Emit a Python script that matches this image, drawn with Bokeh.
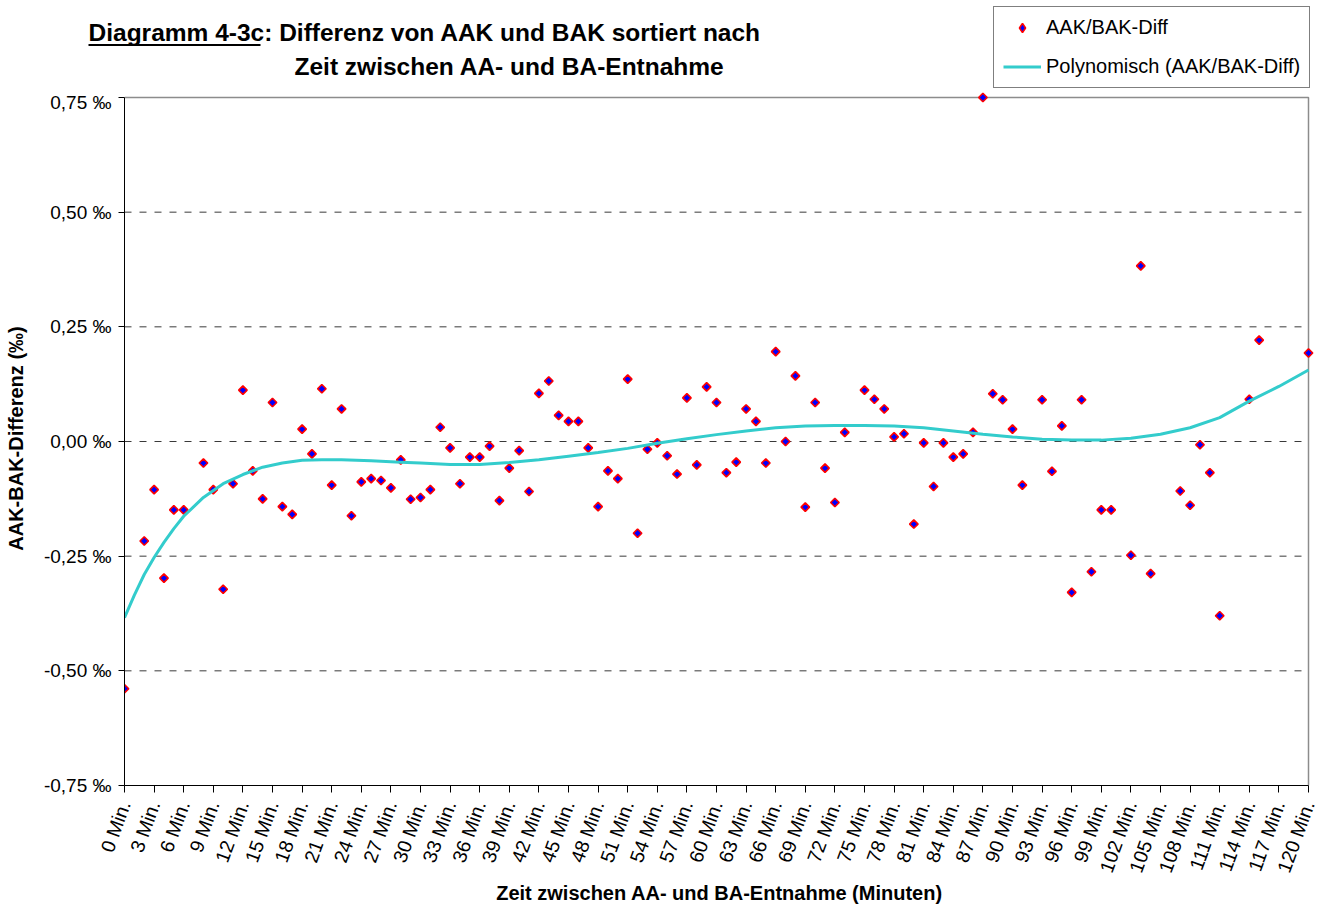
import math
from bokeh.plotting import figure
from bokeh.layouts import column
from bokeh.models import Range1d, FixedTicker, Label, Legend, LegendItem
from bokeh.embed import file_html
from bokeh.resources import INLINE

# ---------------- data ----------------
MINUTES = [0, 2, 3, 4, 5, 6, 8, 9, 10, 11, 12, 13, 14, 15, 16, 17, 18, 19, 20,
           21, 22, 23, 24, 25, 26, 27, 28, 29, 30, 31, 32, 33, 34, 35, 36, 37, 38,
           39, 40, 41, 42, 43, 44, 45, 46, 47, 48, 49, 50, 51, 52, 53, 54, 55, 56,
           57, 58, 59, 60, 61, 62, 63, 64, 65, 66, 67, 68, 69, 70, 71, 72, 73, 75,
           76, 77, 78, 79, 80, 81, 82, 83, 84, 85, 86, 87, 88, 89, 90, 91, 93, 94,
           95, 96, 97, 98, 99, 100, 102, 103, 104, 107, 108, 109, 110, 111, 114,
           115, 120]
DIFF = [-0.539, -0.217, -0.105, -0.298, -0.149, -0.149, -0.047, -0.105, -0.322,
        -0.092, 0.112, -0.064, -0.125, 0.085, -0.142, -0.159, 0.027, -0.027,
        0.115, -0.095, 0.071, -0.162, -0.088, -0.081, -0.085, -0.101, -0.040,
        -0.126, -0.122, -0.105, 0.031, -0.014, -0.092, -0.034, -0.034, -0.010,
        -0.129, -0.058, -0.020, -0.109, 0.105, 0.132, 0.057, 0.044, 0.044,
        -0.014, -0.142, -0.064, -0.081, 0.136, -0.200, -0.017, -0.003, -0.031,
        -0.071, 0.095, -0.051, 0.119, 0.085, -0.068, -0.045, 0.071, 0.044,
        -0.047, 0.196, 0.000, 0.143, -0.143, 0.085, -0.058, -0.133, 0.020,
        0.112, 0.092, 0.071, 0.010, 0.017, -0.180, -0.003, -0.098, -0.003,
        -0.034, -0.027, 0.020, 0.750, 0.104, 0.091, 0.027, -0.095, 0.091,
        -0.065, 0.034, -0.329, 0.091, -0.284, -0.149, -0.149, -0.248, 0.383,
        -0.288, -0.108, -0.139, -0.007, -0.068, -0.380, 0.092, 0.221, 0.193]

TREND_MIN = [0, 1, 2, 3, 4, 5, 6, 8, 10, 12, 14, 16, 18, 20, 22, 25, 28, 30,
             33, 36, 39, 42, 45, 48, 51, 54, 57, 60, 63, 66, 69, 72, 75, 78, 81,
             84, 87, 90, 93, 96, 99, 102, 105, 108, 111, 114, 117, 120]
TREND_VAL = [-0.384, -0.335, -0.290, -0.253, -0.220, -0.190, -0.163, -0.122,
             -0.092, -0.072, -0.056, -0.047, -0.041, -0.040, -0.040, -0.042,
             -0.045, -0.047, -0.050, -0.050, -0.046, -0.040, -0.032, -0.024,
             -0.015, -0.004, 0.006, 0.015, 0.023, 0.030, 0.034, 0.035, 0.035,
             0.034, 0.030, 0.023, 0.016, 0.010, 0.005, 0.003, 0.003, 0.007,
             0.016, 0.030, 0.052, 0.088, 0.120, 0.156]

X_TICKS = list(range(0, 121, 3))
X_TICK_LABELS = [f"{m} Min." for m in X_TICKS]
Y_TICKS = [-0.75, -0.5, -0.25, 0.0, 0.25, 0.5, 0.75]
Y_TICK_LABELS = ["-0,75 \u2030", "-0,50 \u2030", "-0,25 \u2030", "0,00 \u2030",
                 "0,25 \u2030", "0,50 \u2030", "0,75 \u2030"]
GRID_VALUES = [-0.5, -0.25, 0.0, 0.25, 0.5]

TITLE_LINE1 = "Diagramm 4-3c: Differenz von AAK und BAK sortiert nach"
TITLE_LINE2 = "Zeit zwischen AA- und BA-Entnahme"
X_LABEL = "Zeit zwischen AA- und BA-Entnahme (Minuten)"
Y_LABEL = "AAK-BAK-Differenz (\u2030)"
SERIES_NAME = "AAK/BAK-Diff"
TREND_NAME = "Polynomisch (AAK/BAK-Diff)"

# ---------------- styles / layout ----------------
FONT = "Liberation Sans"
MARKER_COLORS = dict(fill_color="#0000FF", line_color="#FF0000", line_width=1.6)
POINT_STYLE = dict(marker="square", angle=math.pi / 4, size=6, **MARKER_COLORS)
TREND_STYLE = dict(line_color="#33CCCC", line_width=3)

W = 1321
TOP_H = 91            # header strip (title + legend), page pixels
MAIN_H = 908 - TOP_H
BL, BR, BT, BB = 124, 7, 0, 123
AXIS_W_PX, AXIS_H_PX = 1184, 688
X0, X1 = 0, 120
Y0, Y1 = -0.75, 0.75

frame_w = W - BL - BR
frame_h = MAIN_H - BT - BB
x_end = X1 + (frame_w - AXIS_W_PX) * (X1 - X0) / AXIS_W_PX
y_end = Y1 + (frame_h - AXIS_H_PX) * (Y1 - Y0) / AXIS_H_PX

# legend geometry (header strip, page pixels)
LEG_LEFT, LEG_BOTTOM = 993, 88
LEG_PAD, LEG_GLYPH_W, LEG_ROW_H, LEG_SPACING = 9, 38, 23, 16


def ty(page_y):
    """page y (from top) -> header-strip data y (from bottom)"""
    return TOP_H - page_y


# ---------------- header figure (title + legend) ----------------
top = figure(width=W, height=TOP_H, x_range=Range1d(0, W),
             y_range=Range1d(0, TOP_H), output_backend="svg",
             toolbar_location=None, x_axis_location=None,
             y_axis_location=None, min_border=0)
top.grid.visible = False
top.outline_line_color = None
top.background_fill_color = "white"
top.border_fill_color = "white"

title_kw = dict(text_font=FONT, text_font_size="24.5px", text_font_style="bold",
                text_color="black", text_baseline="middle", text_align="left")
top.add_layout(Label(x=88, y=ty(32), text=TITLE_LINE1, **title_kw))
top.add_layout(Label(x=294, y=ty(66), text=TITLE_LINE2, **title_kw))
top.segment(x0=[88], y0=[ty(44.5)], x1=[260], y1=[ty(44.5)],
            line_color="black", line_width=2.2)

# legend swatches (renderers without visible data)
nan = float("nan")
leg_pts = top.scatter(x=[nan], y=[nan], marker="diamond", size=6,
                      **MARKER_COLORS)
leg_line = top.line(x=[nan, nan], y=[nan, nan], **TREND_STYLE)
legend = Legend(items=[LegendItem(label=SERIES_NAME, renderers=[leg_pts]),
                       LegendItem(label=TREND_NAME, renderers=[leg_line])],
                location=(LEG_LEFT, TOP_H - LEG_BOTTOM),
                orientation="vertical", margin=0, padding=LEG_PAD,
                border_line_color="black", border_line_width=1,
                background_fill_color="white", background_fill_alpha=1.0,
                label_text_font=FONT, label_text_font_size="20px",
                label_text_color="black", label_text_baseline="middle",
                glyph_width=LEG_GLYPH_W, glyph_height=LEG_ROW_H,
                label_height=LEG_ROW_H, label_standoff=5,
                spacing=LEG_SPACING)
top.add_layout(legend)

# ---------------- main chart ----------------
p = figure(width=W, height=MAIN_H,
           x_range=Range1d(X0, x_end), y_range=Range1d(Y0, y_end),
           output_backend="svg", toolbar_location=None,
           min_border_left=BL, min_border_right=BR,
           min_border_top=BT, min_border_bottom=BB)
p.grid.visible = False
p.background_fill_color = "white"
p.border_fill_color = "white"
p.outline_line_color = None

for fig in (top, p):
    if "frame_align" in fig.properties():
        fig.frame_align = False

# x axis
xa = p.xaxis[0]
xa.bounds = (X0, X1)
xa.ticker = FixedTicker(ticks=X_TICKS)
xa.major_label_overrides = {t: l for t, l in zip(X_TICKS, X_TICK_LABELS)}
xa.major_label_orientation = math.radians(70)
xa.major_tick_out = 7
xa.major_tick_in = 0
xa.minor_tick_line_color = None
xa.major_label_standoff = 9
xa.axis_line_color = "black"
xa.major_tick_line_color = "black"
xa.major_label_text_font = FONT
xa.major_label_text_font_size = "19.5px"
xa.major_label_text_color = "black"
xa.axis_label = X_LABEL
xa.axis_label_text_font = FONT
xa.axis_label_text_font_size = "20px"
xa.axis_label_text_font_style = "bold"
xa.axis_label_text_color = "black"
xa.axis_label_standoff = 0

# y axis
ya = p.yaxis[0]
ya.bounds = (Y0, Y1)
ya.ticker = FixedTicker(ticks=Y_TICKS)
ya.major_label_overrides = {t: l for t, l in zip(Y_TICKS, Y_TICK_LABELS)}
ya.major_tick_out = 6
ya.major_tick_in = 0
ya.minor_tick_line_color = None
ya.major_label_standoff = 7
ya.axis_line_color = "black"
ya.major_tick_line_color = "black"
ya.major_label_text_font = FONT
ya.major_label_text_font_size = "19px"
ya.major_label_text_color = "black"
ya.axis_label = Y_LABEL
ya.axis_label_text_font = FONT
ya.axis_label_text_font_size = "20px"
ya.axis_label_text_font_style = "bold"
ya.axis_label_text_color = "black"
ya.axis_label_standoff = 14

# dashed gridlines and grey plot-area border (top and right)
p.segment(x0=[X0] * len(GRID_VALUES), x1=[X1] * len(GRID_VALUES),
          y0=GRID_VALUES, y1=GRID_VALUES,
          line_color="#3a3a3a", line_width=1, line_dash="7 8")
p.line(x=[X0, X1, X1], y=[Y1, Y1, Y0], line_color="#8c8c8c", line_width=1.5)

# data
p.scatter(MINUTES, DIFF, **POINT_STYLE)
p.line(TREND_MIN, TREND_VAL, **TREND_STYLE)

layout = column(top, p, spacing=0)
open("out.html", "w").write(file_html(layout, INLINE))
